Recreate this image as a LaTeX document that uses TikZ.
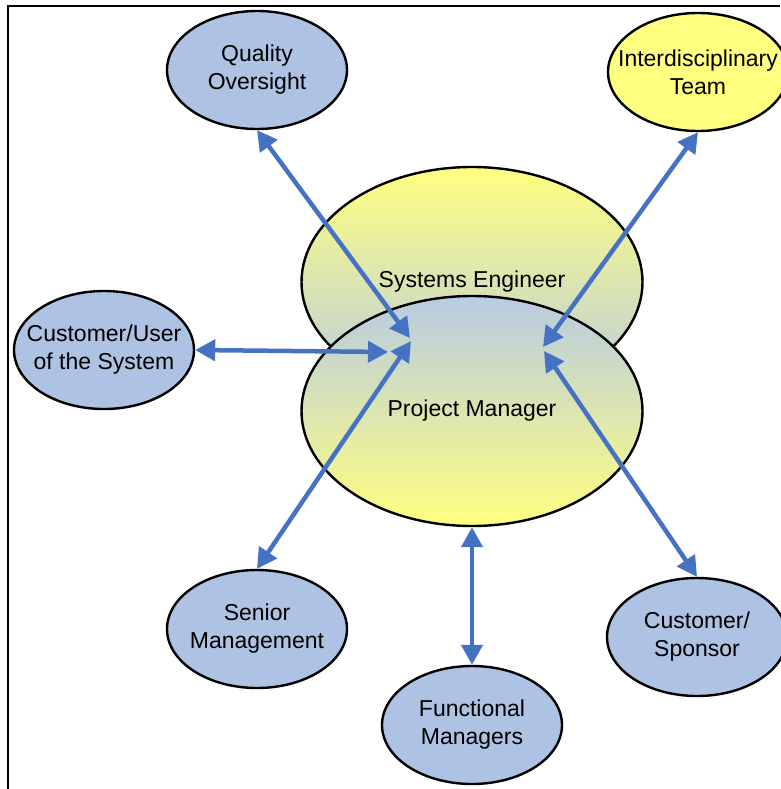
\documentclass[tikz,border=0pt]{standalone}
\usepackage{fontspec}
\setmainfont{Liberation Sans}
\usetikzlibrary{arrows.meta, shapes.geometric, calc}

\definecolor{roleblue}{RGB}{174,194,228}
\definecolor{roleyellow}{RGB}{255,255,128}
\definecolor{shadeblue}{RGB}{184,203,226}
\definecolor{linkblue}{RGB}{70,114,196}

\tikzset{
    my-role/.style={
        ellipse, draw, line width=2.4pt, inner sep=-20pt, align=center,
        minimum width=180pt, minimum height=118pt,
        font=\fontsize{23}{28}\selectfont
    },
    my-blue-role/.style={
        my-role, fill=roleblue
    },
    my-yellow-role/.style={
        my-role, fill=roleyellow
    },
    my-core-role/.style={
        ellipse, draw, line width=2.4pt, inner sep=0pt,
        minimum width=341pt, minimum height=230pt,
        font=\fontsize{23}{28}\selectfont
    },
    my-link/.style={
        draw=linkblue, line width=4.5pt,
        {Triangle[length=20pt,width=21pt]}-{Triangle[length=20pt,width=21pt]}
    },
}

\begin{document}
\begin{tikzpicture}[x=1pt, y=-1pt]

        \useasboundingbox (0,0) rectangle (780,789);

        % FRAME
        \draw[line width=1.5pt] (8,789) -- (8,6) -- (780,6);

        % CORE ROLES
        \node[my-core-role, top color=roleyellow, bottom color=shadeblue]
            (SE) at (472,282) {Systems Engineer};
        \node[my-core-role, top color=shadeblue, bottom color=roleyellow]
            (PM) at (472,411) {Project Manager};

        % OUTER ROLES
        \node[my-blue-role]   (QO) at (257,70)  {Quality\\Oversight};
        \node[my-yellow-role] (IT) at (698,72)  {Interdisciplinary\\Team};
        \node[my-blue-role]   (CU) at (104,350) {Customer/User\\of the System};
        \node[my-blue-role]   (SM) at (257,629) {Senior\\Management};
        \node[my-blue-role]   (FM) at (472,725) {Functional\\Managers};
        \node[my-blue-role]   (CS) at (697,637) {Customer/\\Sponsor};

        % CONNECTOR POINTS INSIDE PM
        \coordinate (QOIN) at ($(PM.center) + (-62,-73)$);
        \coordinate (SMIN) at ($(PM.center) + (-61,-70)$);
        \coordinate (CUIN) at ($(PM.center) + (-84,-59)$);
        \coordinate (ITIN) at ($(PM.center) + (71,-64)$);
        \coordinate (CSIN) at ($(PM.center) + (72,-60)$);

        % LINKS
        \draw[my-link] (QO.south) -- (QOIN);
        \draw[my-link] (CU.east)  -- (CUIN);
        \draw[my-link] (SM.north) -- (SMIN);
        \draw[my-link] (IT.south) -- (ITIN);
        \draw[my-link] (CS.north) -- (CSIN);
        \draw[my-link] (PM.south) -- (FM.north);

    \end{tikzpicture}
\end{document}
